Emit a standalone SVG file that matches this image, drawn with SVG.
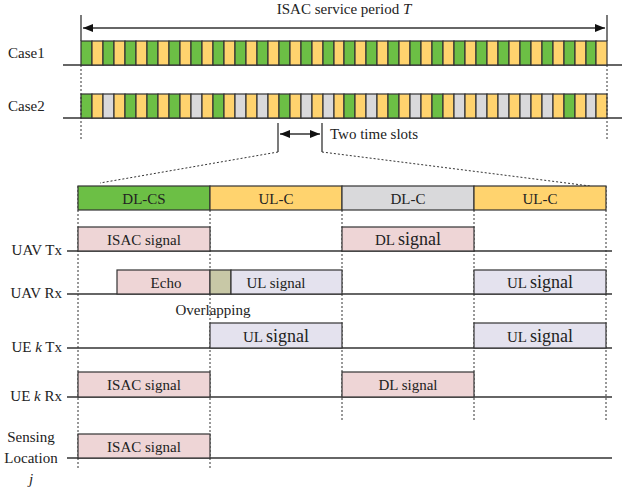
<svg xmlns="http://www.w3.org/2000/svg" width="624" height="488" viewBox="0 0 624 488">
<style>
text{font-family:"Liberation Serif",serif;font-size:15px;fill:#222}
.ln{stroke:#333;stroke-width:1.3;fill:none}
.dot{stroke:#333;stroke-width:1;stroke-dasharray:2,2;fill:none}
.g{fill:#6cbf45;stroke:#333;stroke-width:1.2}
.y{fill:#ffd36e;stroke:#333;stroke-width:1.2}
.r{fill:#d9d9db;stroke:#333;stroke-width:1.2}
.p{fill:#eed5d6;stroke:#333;stroke-width:1.2}
.l{fill:#e4e2ee;stroke:#333;stroke-width:1.2}
.o{fill:#c8c8a6;stroke:#333;stroke-width:1.2}
</style>
<defs><marker id="a" markerWidth="10" markerHeight="8" refX="10" refY="4" orient="auto-start-reverse" markerUnits="userSpaceOnUse"><path d="M0,0L10,4L0,8z" fill="#111"/></marker></defs>
<g id="period">
<line class="ln" x1="81" y1="15" x2="81" y2="41"/><line class="ln" x1="607" y1="15" x2="607" y2="41"/>
<line class="ln" x1="83" y1="28" x2="605" y2="28" marker-start="url(#a)" marker-end="url(#a)"/>
<text x="344" y="14" text-anchor="middle">ISAC service period <tspan font-style="italic">T</tspan></text>
</g>
<g id="case1">
<text x="8" y="58">Case1</text>
<line class="ln" x1="63" y1="65" x2="622" y2="65"/>
<rect class="g" x="81" y="41" width="11" height="24"/><rect class="y" x="92" y="41" width="11" height="24"/><rect class="g" x="103" y="41" width="11" height="24"/><rect class="y" x="114" y="41" width="11" height="24"/><rect class="g" x="125" y="41" width="11" height="24"/><rect class="y" x="136" y="41" width="11" height="24"/><rect class="g" x="147" y="41" width="11" height="24"/><rect class="y" x="158" y="41" width="11" height="24"/><rect class="g" x="169" y="41" width="11" height="24"/><rect class="y" x="180" y="41" width="11" height="24"/><rect class="g" x="191" y="41" width="11" height="24"/><rect class="y" x="202" y="41" width="11" height="24"/><rect class="g" x="213" y="41" width="11" height="24"/><rect class="y" x="224" y="41" width="11" height="24"/><rect class="g" x="235" y="41" width="11" height="24"/><rect class="y" x="246" y="41" width="11" height="24"/><rect class="g" x="257" y="41" width="11" height="24"/><rect class="y" x="268" y="41" width="11" height="24"/><rect class="g" x="279" y="41" width="11" height="24"/><rect class="y" x="290" y="41" width="11" height="24"/><rect class="g" x="301" y="41" width="11" height="24"/><rect class="y" x="312" y="41" width="11" height="24"/><rect class="g" x="323" y="41" width="11" height="24"/><rect class="y" x="334" y="41" width="10" height="24"/><rect class="g" x="344" y="41" width="11" height="24"/><rect class="y" x="355" y="41" width="11" height="24"/><rect class="g" x="366" y="41" width="11" height="24"/><rect class="y" x="377" y="41" width="11" height="24"/><rect class="g" x="388" y="41" width="11" height="24"/><rect class="y" x="399" y="41" width="11" height="24"/><rect class="g" x="410" y="41" width="11" height="24"/><rect class="y" x="421" y="41" width="11" height="24"/><rect class="g" x="432" y="41" width="11" height="24"/><rect class="y" x="443" y="41" width="11" height="24"/><rect class="g" x="454" y="41" width="11" height="24"/><rect class="y" x="465" y="41" width="11" height="24"/><rect class="g" x="476" y="41" width="11" height="24"/><rect class="y" x="487" y="41" width="11" height="24"/><rect class="g" x="498" y="41" width="11" height="24"/><rect class="y" x="509" y="41" width="11" height="24"/><rect class="g" x="520" y="41" width="11" height="24"/><rect class="y" x="531" y="41" width="11" height="24"/><rect class="g" x="542" y="41" width="11" height="24"/><rect class="y" x="553" y="41" width="11" height="24"/><rect class="g" x="564" y="41" width="11" height="24"/><rect class="y" x="575" y="41" width="11" height="24"/><rect class="g" x="586" y="41" width="10" height="24"/><rect class="y" x="596" y="41" width="11" height="24"/>
</g>
<g id="case2">
<text x="8" y="111">Case2</text>
<line class="ln" x1="63" y1="118" x2="622" y2="118"/>
<rect class="g" x="81" y="94" width="11" height="24"/><rect class="y" x="92" y="94" width="11" height="24"/><rect class="r" x="103" y="94" width="11" height="24"/><rect class="y" x="114" y="94" width="11" height="24"/><rect class="g" x="125" y="94" width="11" height="24"/><rect class="y" x="136" y="94" width="11" height="24"/><rect class="g" x="147" y="94" width="11" height="24"/><rect class="y" x="158" y="94" width="11" height="24"/><rect class="g" x="169" y="94" width="11" height="24"/><rect class="y" x="180" y="94" width="11" height="24"/><rect class="r" x="191" y="94" width="11" height="24"/><rect class="y" x="202" y="94" width="11" height="24"/><rect class="g" x="213" y="94" width="11" height="24"/><rect class="y" x="224" y="94" width="11" height="24"/><rect class="r" x="235" y="94" width="11" height="24"/><rect class="y" x="246" y="94" width="11" height="24"/><rect class="r" x="257" y="94" width="11" height="24"/><rect class="y" x="268" y="94" width="11" height="24"/><rect class="g" x="279" y="94" width="11" height="24"/><rect class="y" x="290" y="94" width="11" height="24"/><rect class="r" x="301" y="94" width="11" height="24"/><rect class="y" x="312" y="94" width="11" height="24"/><rect class="r" x="323" y="94" width="11" height="24"/><rect class="y" x="334" y="94" width="10" height="24"/><rect class="g" x="344" y="94" width="11" height="24"/><rect class="y" x="355" y="94" width="11" height="24"/><rect class="r" x="366" y="94" width="11" height="24"/><rect class="y" x="377" y="94" width="11" height="24"/><rect class="g" x="388" y="94" width="11" height="24"/><rect class="y" x="399" y="94" width="11" height="24"/><rect class="r" x="410" y="94" width="11" height="24"/><rect class="y" x="421" y="94" width="11" height="24"/><rect class="g" x="432" y="94" width="11" height="24"/><rect class="y" x="443" y="94" width="11" height="24"/><rect class="r" x="454" y="94" width="11" height="24"/><rect class="y" x="465" y="94" width="11" height="24"/><rect class="r" x="476" y="94" width="11" height="24"/><rect class="y" x="487" y="94" width="11" height="24"/><rect class="r" x="498" y="94" width="11" height="24"/><rect class="y" x="509" y="94" width="11" height="24"/><rect class="r" x="520" y="94" width="11" height="24"/><rect class="y" x="531" y="94" width="11" height="24"/><rect class="r" x="542" y="94" width="11" height="24"/><rect class="y" x="553" y="94" width="11" height="24"/><rect class="g" x="564" y="94" width="11" height="24"/><rect class="y" x="575" y="94" width="11" height="24"/><rect class="r" x="586" y="94" width="10" height="24"/><rect class="y" x="596" y="94" width="11" height="24"/>
</g>
<g id="connectors">
<line class="dot" x1="81" y1="65" x2="81" y2="140"/><line class="dot" x1="607" y1="65" x2="607" y2="140"/>
<line class="ln" x1="278" y1="123" x2="278" y2="152"/><line class="ln" x1="322" y1="123" x2="322" y2="152"/>
<line class="ln" x1="280" y1="134" x2="320" y2="134" marker-start="url(#a)" marker-end="url(#a)"/>
<line class="dot" x1="278" y1="152" x2="100" y2="183"/><line class="dot" x1="322" y1="152" x2="590" y2="186"/>
<line class="dot" x1="78" y1="186" x2="78" y2="470"/><line class="dot" x1="210" y1="186" x2="210" y2="470"/><line class="dot" x1="342" y1="186" x2="342" y2="420"/><line class="dot" x1="474" y1="186" x2="474" y2="420"/><line class="dot" x1="606" y1="186" x2="606" y2="420"/>
</g>
<text x="330" y="139">Two time slots</text>
<g id="header">
<rect class="g" x="78" y="186" width="132" height="24"/><text x="144" y="204" text-anchor="middle">DL-CS</text>
<rect class="y" x="210" y="186" width="132" height="24"/><text x="276" y="204" text-anchor="middle">UL-C</text>
<rect class="r" x="342" y="186" width="132" height="24"/><text x="408" y="204" text-anchor="middle">DL-C</text>
<rect class="y" x="474" y="186" width="132" height="24"/><text x="540" y="204" text-anchor="middle">UL-C</text>
</g>
<g id="uavtx">
<text x="62" y="255" text-anchor="end">UAV Tx</text>
<line class="ln" x1="67" y1="251" x2="612" y2="251"/>
<rect class="p" x="78" y="227" width="132" height="24"/><text x="144" y="245" text-anchor="middle">ISAC signal</text>
<rect class="p" x="342" y="227" width="132" height="24"/><text x="408" y="245" text-anchor="middle">DL <tspan font-size="18">signal</tspan></text>
</g>
<g id="uavrx">
<text x="62" y="298" text-anchor="end">UAV Rx</text>
<line class="ln" x1="67" y1="294" x2="612" y2="294"/>
<rect class="p" x="117" y="270" width="93" height="24"/><text x="166" y="288" text-anchor="middle">Echo</text>
<rect class="o" x="210" y="270" width="21" height="24"/>
<rect class="l" x="231" y="270" width="111" height="24"/><text x="276" y="288" text-anchor="middle">UL signal</text>
<rect class="l" x="474" y="270" width="132" height="24"/><text x="540" y="288" text-anchor="middle">UL <tspan font-size="18">signal</tspan></text>
<text x="213" y="315" text-anchor="middle">Overlapping</text>
</g>
<g id="uektx">
<text x="62" y="352" text-anchor="end">UE <tspan font-style="italic">k</tspan> Tx</text>
<line class="ln" x1="67" y1="348" x2="612" y2="348"/>
<rect class="l" x="210" y="323" width="132" height="25"/><text x="276" y="342" text-anchor="middle">UL <tspan font-size="18">signal</tspan></text>
<rect class="l" x="474" y="323" width="132" height="25"/><text x="540" y="342" text-anchor="middle">UL <tspan font-size="18">signal</tspan></text>
</g>
<g id="uekrx">
<text x="62" y="401" text-anchor="end">UE <tspan font-style="italic">k</tspan> Rx</text>
<line class="ln" x1="67" y1="397" x2="612" y2="397"/>
<rect class="p" x="78" y="372" width="132" height="25"/><text x="144" y="390" text-anchor="middle">ISAC  signal</text>
<rect class="p" x="342" y="372" width="132" height="25"/><text x="408" y="390" text-anchor="middle">DL  signal</text>
</g>
<g id="sensing">
<text x="31" y="442" text-anchor="middle">Sensing</text>
<text x="31" y="463" text-anchor="middle">Location</text>
<text x="31" y="484" text-anchor="middle" font-style="italic">j</text>
<line class="ln" x1="67" y1="458" x2="612" y2="458"/>
<rect class="p" x="78" y="434" width="132" height="24"/><text x="144" y="452" text-anchor="middle">ISAC  signal</text>
</g>
</svg>
